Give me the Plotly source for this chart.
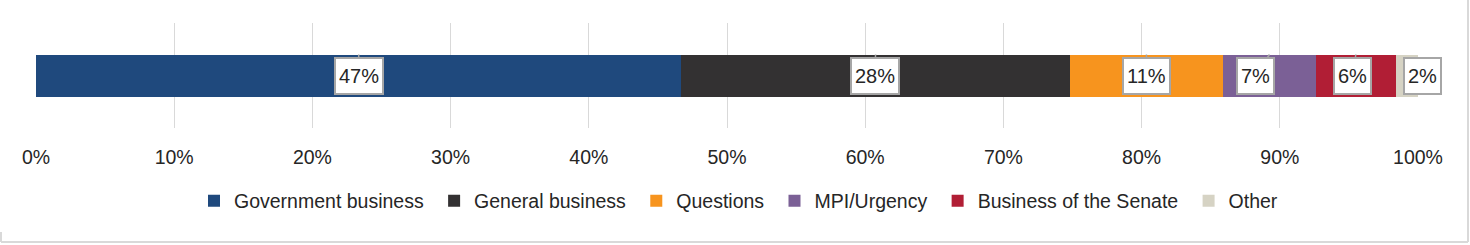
import plotly.graph_objects as go

# ---- data ----
categories = ["Government business", "General business", "Questions",
              "MPI/Urgency", "Business of the Senate", "Other"]
shares = [46.7, 28.1, 11.1, 6.7, 5.8, 1.6]          # percent of time
labels = ["47%", "28%", "11%", "7%", "6%", "2%"]
tick_values = [0, 10, 20, 30, 40, 50, 60, 70, 80, 90, 100]

# ---- styles ----
colors = ["#1F497D", "#333132", "#F7941E", "#7B6096", "#B11E35", "#D6D3C4"]
label_dx = [0, -1, 0, -14, -3, 0]      # pixel shift of callout boxes
label_tail = [True, True, True, True, True, False]
FONT = "Liberation Sans, Arial, sans-serif"
TXT = "#262626"
NBSP = "\u00a0"

W, H = 1470, 245
ML, MR, MT, MB = 36, 52, 23, 117

fig = go.Figure()
for i, (name, val, col) in enumerate(zip(categories, shares, colors)):
    shown = name + (NBSP if i < len(categories) - 1 else "")
    fig.add_trace(go.Bar(
        x=[val], y=[0], name=shown, orientation="h",
        marker=dict(color=col, line=dict(width=0)),
        width=0.4, hovertemplate=name + ": %{x}%<extra></extra>",
    ))

box = dict(bgcolor="white", bordercolor="#A6A6A6", borderwidth=2, borderpad=3,
           height=28, font=dict(family=FONT, size=20, color=TXT))

# callout labels
cum = 0.0
for i, (val, lab) in enumerate(zip(shares, labels)):
    center = cum + val / 2
    cum += val
    if label_tail[i]:
        fig.add_annotation(
            x=center, y=0.2, xref="x", yref="y", text=lab,
            showarrow=True, arrowhead=0, arrowwidth=1.5, arrowcolor="#A6A6A6",
            axref="pixel", ayref="pixel", ax=label_dx[i], ay=21,
            standoff=0, startstandoff=0, **box)
    else:
        fig.add_annotation(
            x=min(cum, 100), y=0, xref="x", yref="y", text=lab,
            showarrow=False, xshift=4, **box)

# outer frame (right / bottom edges visible)
pw, ph = W - ML - MR, H - MT - MB
def px2x(px): return (px - ML) / pw
def py2y(py): return (H - MB - py) / ph
frame = dict(color="#D9D9D9", width=2)
fig.add_shape(type="line", xref="paper", yref="paper",
              x0=px2x(1468), x1=px2x(1468), y0=py2y(0), y1=py2y(242), line=frame)
fig.add_shape(type="line", xref="paper", yref="paper",
              x0=px2x(1), x1=px2x(1468), y0=py2y(242), y1=py2y(242), line=frame)
fig.add_shape(type="line", xref="paper", yref="paper",
              x0=px2x(1), x1=px2x(1), y0=py2y(232), y1=py2y(242), line=frame)

fig.update_layout(
    width=W, height=H,
    margin=dict(l=ML, r=MR, t=MT, b=MB, pad=0),
    barmode="stack", plot_bgcolor="white", paper_bgcolor="white",
    font=dict(family=FONT, size=20, color=TXT),
    showlegend=True,
    legend=dict(orientation="h", x=px2x(194), xanchor="left", y=py2y(201),
                yanchor="middle", traceorder="normal",
                font=dict(family=FONT, size=19.5, color=TXT),
                itemwidth=30, tracegroupgap=0),
    xaxis=dict(range=[0, 100], tickvals=tick_values,
               ticktext=[f"{v}%" for v in tick_values],
               showgrid=True, gridcolor="#D9D9D9", gridwidth=1,
               zeroline=False, showline=False,
               ticks="outside", ticklen=12, tickcolor="rgba(0,0,0,0)",
               tickfont=dict(family=FONT, size=19.5, color=TXT), fixedrange=True),
    yaxis=dict(range=[-0.5, 0.5], visible=False, fixedrange=True),
)

fig.write_html("out.html")
